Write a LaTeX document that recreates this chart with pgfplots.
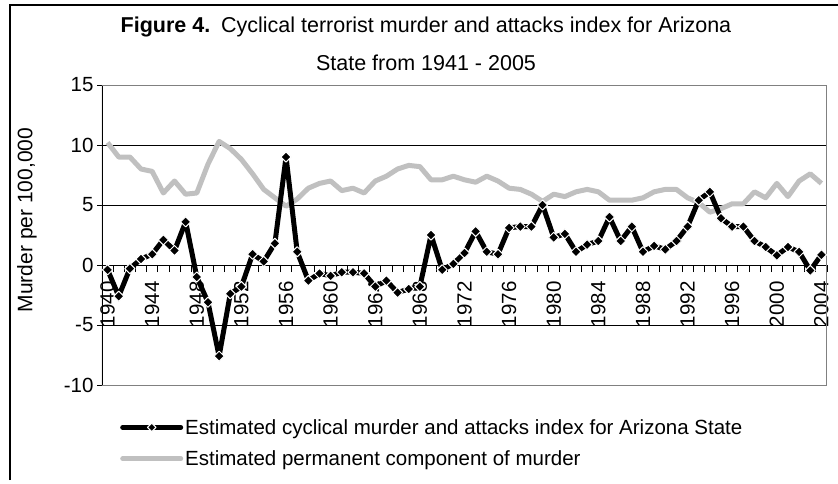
\documentclass[border=0pt]{standalone}
\usepackage{pgfplots}
\pgfplotsset{compat=1.18}
\usepackage{pgfplotstable}
\usepackage{fontspec}
\setmainfont{Liberation Sans}
\definecolor{lgray}{RGB}{192,192,192}
\definecolor{boxgray}{RGB}{128,128,128}

\pgfplotstableread{
year cyc perm
1940 -0.4 10.2
1941 -2.6 9.0
1942 -0.3 9.0
1943 0.5 8.0
1944 0.9 7.8
1945 2.1 6.0
1946 1.2 7.0
1947 3.6 5.9
1948 -1.0 6.0
1949 -3.1 8.4
1950 -7.6 10.3
1951 -2.4 9.7
1952 -1.8 8.8
1953 0.9 7.6
1954 0.3 6.3
1955 1.8 5.6
1956 9.0 4.9
1957 1.1 5.5
1958 -1.3 6.4
1959 -0.7 6.8
1960 -0.9 7.0
1961 -0.6 6.2
1962 -0.6 6.4
1963 -0.7 6.0
1964 -1.8 7.0
1965 -1.3 7.4
1966 -2.3 8.0
1967 -2.0 8.3
1968 -1.8 8.2
1969 2.5 7.1
1970 -0.4 7.1
1971 0.1 7.4
1972 1.0 7.1
1973 2.8 6.9
1974 1.1 7.4
1975 0.9 7.0
1976 3.1 6.4
1977 3.2 6.3
1978 3.2 5.9
1979 5.0 5.3
1980 2.3 5.9
1981 2.6 5.7
1982 1.1 6.1
1983 1.7 6.3
1984 2.0 6.1
1985 4.0 5.4
1986 2.0 5.4
1987 3.2 5.4
1988 1.1 5.6
1989 1.6 6.1
1990 1.3 6.3
1991 2.0 6.3
1992 3.2 5.6
1993 5.4 5.2
1994 6.1 4.4
1995 3.9 4.7
1996 3.2 5.1
1997 3.2 5.1
1998 2.0 6.1
1999 1.5 5.6
2000 0.8 6.8
2001 1.5 5.7
2002 1.1 7.0
2003 -0.45 7.6
2004 0.85 6.8
}\datatable

\begin{document}
\begin{tikzpicture}[x=1pt,y=1pt]
\useasboundingbox (0,0) rectangle (838,483);
\draw[black, line width=1.2pt] (10,3) -- (10,478) -- (838,478);
\node[font=\fontsize{21.5}{25}\selectfont] at (426,456) {\textbf{Figure 4.}\hspace{0.5em}Cyclical terrorist murder and attacks index for Arizona};
\node[font=\fontsize{21.5}{25}\selectfont] at (426,420) {State from 1941 - 2005};
\begin{axis}[
  at={(102pt,98pt)}, anchor=south west,
  scale only axis, width=725pt, height=300pt,
  xmin=1939.5, xmax=2004.5, ymin=-10, ymax=15,
  axis x line*=middle, axis y line*=left,
  hide obscured x ticks=false, hide obscured y ticks=false,
  xtick={1940,1944,...,2004},
  xticklabels={1940,1944,1948,1952,1956,1960,1964,1968,1972,1976,1980,1984,1988,1992,1996,2000,2004},
  minor xtick={1939.5,1940.5,...,2004.5},
  major x tick style={draw=none},
  tick align=outside,
  major tick length=5pt, minor tick length=7pt,
  tick style={black, line width=0.8pt},
  ytick={-10,-5,0,5,10,15},
  yticklabels={-10,-5,0,5,10,15},
  ymajorgrids, major grid style={black, line width=0.8pt},
  axis line style={black, line width=0.8pt},
  xticklabel shift=8pt,
  xticklabel style={rotate=90, anchor=east, font=\fontsize{20.5}{24}\selectfont},
  yticklabel style={font=\fontsize{20.5}{24}\selectfont},
  ylabel={Murder per 100,000},
  ylabel style={at={(axis description cs:-0.1034,0.55)}, anchor=center, font=\fontsize{21}{25}\selectfont},
  reverse legend,
  legend cell align=left,
  legend style={at={(axis description cs:0.0207,-0.1)}, anchor=north west, draw=none, fill=none,
    font=\fontsize{20.5}{24}\selectfont, row sep=11pt},
]
\draw[boxgray, line width=1pt] (rel axis cs:0,0) rectangle (rel axis cs:1,1);
\addplot[lgray, line width=5pt, line join=round, no markers,
  legend image code/.code={\draw[lgray, line width=5pt, line cap=round] (0pt,0pt) -- (58pt,0pt);}]
  table[x=year,y=perm]{\datatable};
\addlegendentry{Estimated permanent component of murder}
\addplot[black, line width=5pt, line join=round, mark=square*, mark size=3.6pt,
  mark options={rotate=45, fill=black, draw=white, line width=1pt, solid},
  legend image code/.code={\draw[black, line width=5pt, line cap=round] (0pt,0pt) -- (58pt,0pt);
    \draw[mark=square*, mark size=3pt, mark options={rotate=45, fill=black, draw=white, line width=1pt}] plot coordinates {(29pt,0pt)};}]
  table[x=year,y=cyc]{\datatable};
\addlegendentry{Estimated cyclical murder and attacks index for Arizona State}
\end{axis}
\end{tikzpicture}
\end{document}
